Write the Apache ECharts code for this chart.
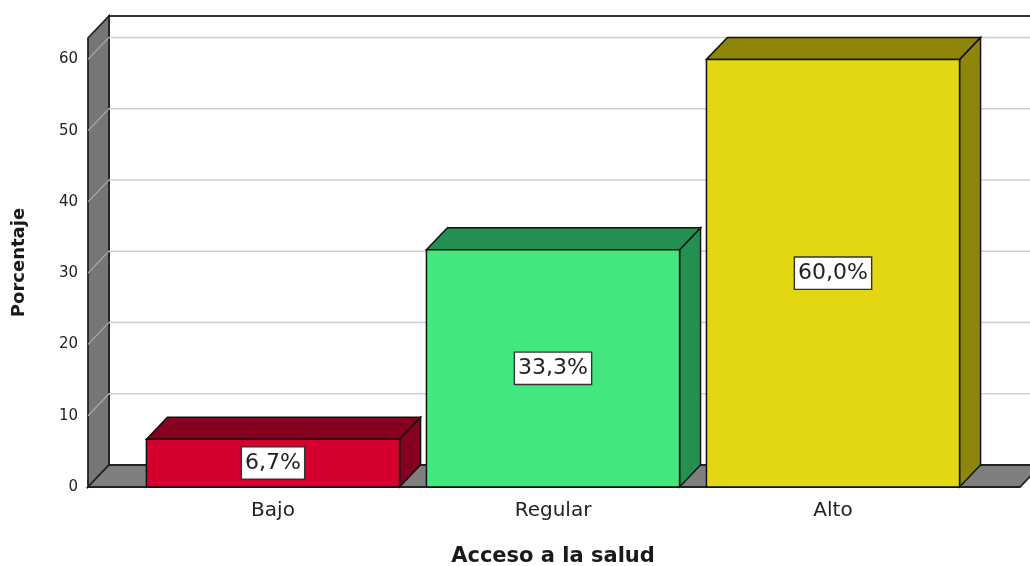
<!DOCTYPE html>
<html>
<head>
<meta charset="utf-8">
<script src="https://cdn.jsdelivr.net/npm/echarts@6/dist/echarts.min.js"></script>
<style>
  html, body { margin: 0; padding: 0; background: #fff; }
  #chart { width: 1030px; height: 566px; }
</style>
</head>
<body>
<div id="chart"></div>
<script>
// datos
const categorias = ['Bajo', 'Regular', 'Alto'];
const porcentajes = [6.7, 33.3, 60.0];
const etiquetas = ['6,7%', '33,3%', '60,0%'];
const ticksY = [0, 10, 20, 30, 40, 50, 60];

// estilo 3D
const DX = 21;
const DY = 22;
const coloresFrente = ['#D6002F', '#42E87D', '#E2D712'];
const coloresLado = ['#86001F', '#249152', '#8D860A'];
const FONT = '"DejaVu Sans", Arial, sans-serif';

const chart = echarts.init(document.getElementById('chart'));

// paredes y piso
function renderMarco(params, api) {
  const cs = params.coordSys;
  const wx = cs.x - 45;
  const y0 = cs.y + cs.height;
  const top = cs.y;
  const fx1 = cs.x + cs.width + 47;
  return {
    type: 'group',
    children: [
      {
        type: 'rect',
        shape: { x: wx + DX, y: top - DY, width: 1100, height: y0 - top },
        style: { fill: '#fff', stroke: '#333', lineWidth: 1.8 }
      },
      {
        type: 'polygon',
        shape: { points: [[wx, y0], [wx, top], [wx + DX, top - DY], [wx + DX, y0 - DY]] },
        style: { fill: '#767676', stroke: '#222', lineWidth: 1.8 }
      },
      {
        type: 'polygon',
        shape: { points: [[wx, y0], [wx + DX, y0 - DY], [fx1 + DX, y0 - DY], [fx1, y0]] },
        style: { fill: '#7f7f7f', stroke: '#222', lineWidth: 1.8 }
      }
    ]
  };
}

// lineas de cuadricula
function renderGrid(params, api) {
  const cs = params.coordSys;
  const wx = cs.x - 45;
  const y = api.coord([0, api.value(1)])[1];
  return {
    type: 'group',
    children: [
      {
        type: 'line',
        shape: { x1: wx, y1: y, x2: wx + DX, y2: y - DY },
        style: { stroke: '#a9a9a9', lineWidth: 1.2 }
      },
      {
        type: 'line',
        shape: { x1: wx + DX, y1: y - DY, x2: 1100, y2: y - DY },
        style: { stroke: '#d0d0d0', lineWidth: 1.5 }
      }
    ]
  };
}

// barras 3D
function renderBarra(params, api) {
  const i = params.dataIndex;
  const top = api.coord([api.value(0), api.value(1)]);
  const base = api.coord([api.value(0), 0]);
  const bw = api.size([1, 0])[0] * 0.904;
  const x0 = top[0] - bw / 2;
  const x1 = top[0] + bw / 2;
  const y0 = top[1];
  const y1 = base[1];
  const borde = { stroke: '#111', lineWidth: 1.5 };
  return {
    type: 'group',
    children: [
      {
        type: 'polygon',
        shape: { points: [[x1, y1], [x1, y0], [x1 + DX, y0 - DY], [x1 + DX, y1 - DY]] },
        style: Object.assign({ fill: coloresLado[i] }, borde)
      },
      {
        type: 'polygon',
        shape: { points: [[x0, y0], [x0 + DX, y0 - DY], [x1 + DX, y0 - DY], [x1, y0]] },
        style: Object.assign({ fill: coloresLado[i] }, borde)
      },
      {
        type: 'rect',
        shape: { x: x0, y: y0, width: bw, height: y1 - y0 },
        style: Object.assign({ fill: coloresFrente[i] }, borde)
      },
      {
        type: 'text',
        x: top[0],
        y: (y0 + y1) / 2,
        style: {
          text: etiquetas[i],
          align: 'center',
          verticalAlign: 'middle',
          fontFamily: FONT,
          fontSize: 22,
          fill: '#222',
          backgroundColor: '#fff',
          borderColor: '#333',
          borderWidth: 1.4,
          padding: [5, 3, 4, 3]
        }
      }
    ]
  };
}

const option = {
  backgroundColor: '#fff',
  animation: false,
  grid: { left: 133, right: 57, top: 38, bottom: 79, outerBoundsMode: 'none' },
  xAxis: {
    type: 'category',
    data: categorias,
    name: 'Acceso a la salud',
    nameLocation: 'middle',
    nameGap: 59,
    nameTextStyle: { fontFamily: FONT, fontSize: 21, fontWeight: 'bold', color: '#1a1a1a' },
    axisLine: { show: false },
    axisTick: { show: false },
    axisLabel: { fontFamily: FONT, fontSize: 20, color: '#222', margin: 14 },
    splitLine: { show: false }
  },
  yAxis: {
    type: 'value',
    min: 0,
    max: 63,
    interval: 10,
    offset: 45,
    name: 'Porcentaje',
    nameLocation: 'middle',
    nameGap: 60,
    nameTextStyle: { fontFamily: FONT, fontSize: 18, fontWeight: 'bold', color: '#1a1a1a' },
    axisLine: { show: false },
    axisTick: { show: false },
    splitLine: { show: false },
    axisLabel: {
      fontFamily: FONT,
      fontSize: 15,
      color: '#222',
      margin: 10,
      formatter: v => (v % 10 === 0 ? String(v) : '')
    }
  },
  series: [
    {
      type: 'custom',
      z: 1,
      clip: false,
      silent: true,
      renderItem: renderMarco,
      encode: { x: 0, y: 1 },
      data: [[0, 0]]
    },
    {
      type: 'custom',
      z: 2,
      clip: false,
      silent: true,
      renderItem: renderGrid,
      encode: { x: 0, y: 1 },
      data: ticksY.filter(t => t > 0).map(t => [0, t])
    },
    {
      type: 'custom',
      z: 3,
      clip: false,
      renderItem: renderBarra,
      encode: { x: 0, y: 1 },
      data: porcentajes.map((v, i) => [i, v])
    }
  ]
};

chart.setOption(option);
</script>
</body>
</html>
